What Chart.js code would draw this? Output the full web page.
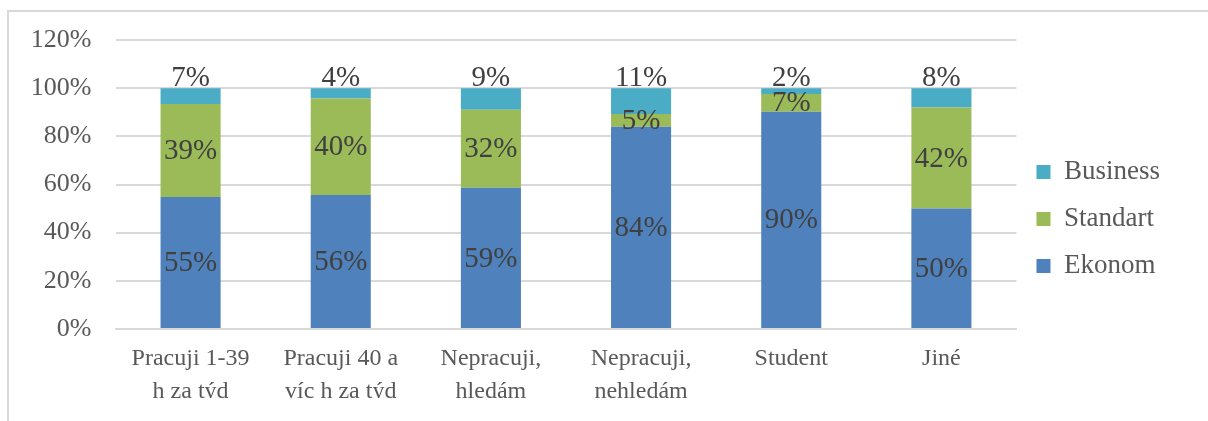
<!DOCTYPE html>
<html>
<head>
<meta charset="utf-8">
<script src="https://cdn.jsdelivr.net/npm/chart.js@4"></script>
<style>
  body { margin: 0; background: #fff; }
  #wrap { position: relative; width: 1208px; height: 421px; overflow: hidden; }
  #frame { position: absolute; left: 7px; top: 10px; right: -4px; bottom: -4px; border-left: 2px solid #d9d9d9; border-top: 2px solid #d9d9d9; }
  canvas { position: absolute; left: 0; top: 0; }
</style>
</head>
<body>
<div id="wrap">
  <div id="frame"></div>
  <canvas id="chart" width="1208" height="421"></canvas>
</div>
<script>
// kategorie
var categories = [
  ['Pracuji 1-39', 'h za týd'],
  ['Pracuji 40 a', 'víc h za týd'],
  ['Nepracuji,', 'hledám'],
  ['Nepracuji,', 'nehledám'],
  'Student',
  'Jiné'
];
// hodnoty v %
var ekonom   = [54.8, 55.6, 58.6, 84.0, 90.2, 50.0];
var standart = [38.6, 40.1, 32.4,  5.3,  7.4, 42.0];
var business = [ 6.6,  4.3,  9.0, 10.7,  2.4,  8.0];
var yTicks = [0, 20, 40, 60, 80, 100, 120];

var serif = "'Liberation Serif', 'Times New Roman', serif";

// popisky hodnot
var valueLabels = {
  id: 'valueLabels',
  afterDatasetsDraw: function(chart) {
    var ctx = chart.ctx;
    ctx.save();
    ctx.font = '29px ' + serif;
    ctx.fillStyle = '#404040';
    ctx.textAlign = 'center';
    chart.data.datasets.forEach(function(ds, di) {
      chart.getDatasetMeta(di).data.forEach(function(bar, i) {
        var txt = Math.round(ds.data[i]) + '%';
        if (ds.label === 'Business') {
          ctx.textBaseline = 'alphabetic';
          ctx.fillText(txt, bar.x, bar.y - 2);
        } else {
          ctx.textBaseline = 'middle';
          ctx.fillText(txt, bar.x, (bar.y + bar.base) / 2 + 1);
        }
      });
    });
    ctx.restore();
  }
};

var context = document.getElementById('chart').getContext('2d');
var myChart = new Chart(context, {
  type: 'bar',
  data: {
    labels: categories,
    datasets: [
      { label: 'Ekonom',   data: ekonom,   backgroundColor: '#4f81bd' },
      { label: 'Standart', data: standart, backgroundColor: '#9bbb59' },
      { label: 'Business', data: business, backgroundColor: '#4bacc6' }
    ]
  },
  options: {
    responsive: false,
    animation: false,
    layout: { padding: { left: 10, top: 40, right: 38, bottom: 23 } },
    datasets: { bar: { barPercentage: 0.4, categoryPercentage: 1, borderWidth: 0 } },
    plugins: {
      tooltip: { enabled: false },
      legend: {
        position: 'right',
        reverse: true,
        labels: {
          boxWidth: 14,
          boxHeight: 14,
          padding: 20,
          color: '#595959',
          font: { family: serif, size: 27 }
        }
      }
    },
    scales: {
      x: {
        stacked: true,
        grid: { display: false, drawTicks: false },
        border: { color: '#d9d9d9', width: 2 },
        ticks: { color: '#595959', font: { family: serif, size: 24, lineHeight: 1.35 }, padding: 14, maxRotation: 0, autoSkip: false },
        afterFit: function(s) { s.height = 69; }
      },
      y: {
        stacked: true,
        min: 0,
        max: 120,
        afterBuildTicks: function(s) { s.ticks = yTicks.map(function(v) { return { value: v }; }); },
        grid: { color: '#d9d9d9', lineWidth: 2, drawTicks: false },
        border: { display: false },
        ticks: { color: '#595959', font: { family: serif, size: 26 }, padding: 24, callback: function(v) { return v + '%'; } },
        afterFit: function(s) { s.width = 105.5; }
      }
    }
  },
  plugins: [valueLabels]
});
</script>
</body>
</html>
